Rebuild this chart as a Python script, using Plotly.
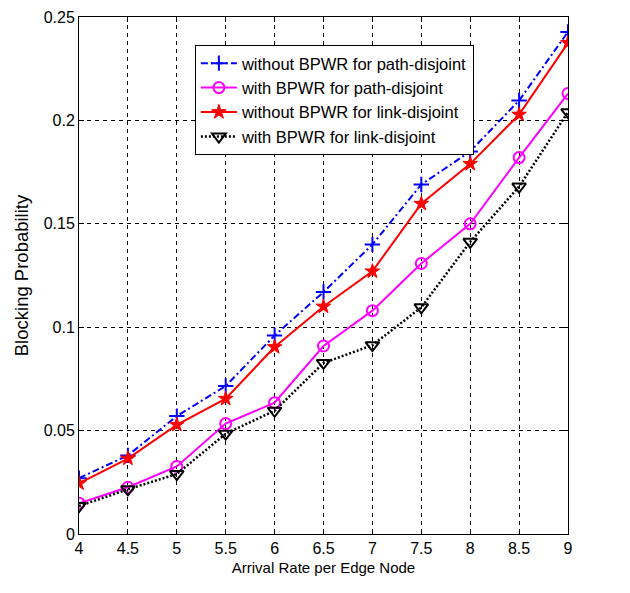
import plotly.graph_objects as go

x = [4, 4.5, 5, 5.5, 6, 6.5, 7, 7.5, 8, 8.5, 9]
wo_path = [0.027, 0.038, 0.057, 0.0716, 0.096, 0.117, 0.140, 0.169, 0.185, 0.2096, 0.2428]
w_path = [0.0149, 0.0226, 0.0327, 0.0534, 0.0635, 0.0909, 0.108, 0.1308, 0.150, 0.182, 0.213]
wo_link = [0.0245, 0.0365, 0.0528, 0.0654, 0.0904, 0.110, 0.127, 0.1597, 0.179, 0.2028, 0.2375]
w_link = [0.0135, 0.0216, 0.029, 0.0485, 0.0596, 0.0827, 0.0913, 0.1096, 0.1413, 0.168, 0.204]

names = ["without BPWR for path-disjoint", "with BPWR for path-disjoint",
         "without BPWR for link-disjoint", "with BPWR for link-disjoint"]
xticks = [4, 4.5, 5, 5.5, 6, 6.5, 7, 7.5, 8, 8.5, 9]
xticklabels = ["4", "4.5", "5", "5.5", "6", "6.5", "7", "7.5", "8", "8.5", "9"]
yticks = [0, 0.05, 0.1, 0.15, 0.2, 0.25]
yticklabels = ["0", "0.05", "0.1", "0.15", "0.2", "0.25"]

REG = "Liberation Sans, Arial"

fig = go.Figure()
fig.add_trace(go.Scatter(x=x, y=wo_path, name=names[0], mode="lines+markers",
                         line=dict(color="#0000ff", width=2, dash="7px,3px,2px,3px"),
                         marker=dict(symbol="cross-thin-open", size=11, line=dict(color="#0000ff", width=2))))
fig.add_trace(go.Scatter(x=x, y=w_path, name=names[1], mode="lines+markers",
                         line=dict(color="#ff00ff", width=2),
                         marker=dict(symbol="circle-open", size=11, line=dict(color="#ff00ff", width=2))))
fig.add_trace(go.Scatter(x=x, y=wo_link, name=names[2], mode="lines+markers",
                         line=dict(color="#ff0000", width=2),
                         marker=dict(symbol="star", size=11, color="#ff0000", line=dict(color="#ff0000", width=1))))
fig.add_trace(go.Scatter(x=x, y=w_link, name=names[3], mode="lines+markers",
                         line=dict(color="black", width=2.5, dash="2px,2px"),
                         marker=dict(symbol="triangle-down-open", size=12, line=dict(color="black", width=2))))

axis_common = dict(showline=True, linecolor="black", linewidth=1, mirror="ticks",
                   ticks="inside", ticklen=5, tickcolor="black", automargin=False,
                   ticklabeloverflow="allow",
                   showgrid=True, gridcolor="black", gridwidth=1, griddash="4px,4px",
                   zeroline=False, tickfont=dict(family=REG, size=16, color="black"))

fig.update_xaxes(range=[4, 9], tickvals=xticks, ticktext=xticklabels,
                 title_text="Arrival Rate per Edge Node", title_standoff=6,
                 title_font=dict(family=REG, size=15, color="black"), **axis_common)
fig.update_yaxes(range=[0, 0.25], tickvals=yticks, ticktext=yticklabels,
                 title_text="Blocking Probability", title_standoff=10,
                 title_font=dict(family=REG, size=18.5, color="black"), **axis_common)

fig.update_layout(width=630, height=593, margin=dict(l=71, r=70, t=9, b=67),
                  paper_bgcolor="white", plot_bgcolor="white",
                  font=dict(family=REG, size=16, color="black"),
                  legend=dict(x=0.237, y=0.946, xanchor="left", yanchor="top",
                              bgcolor="white", bordercolor="black", borderwidth=1,
                              font=dict(family=REG, size=16.5), itemwidth=36))

fig.write_html("out.html")
